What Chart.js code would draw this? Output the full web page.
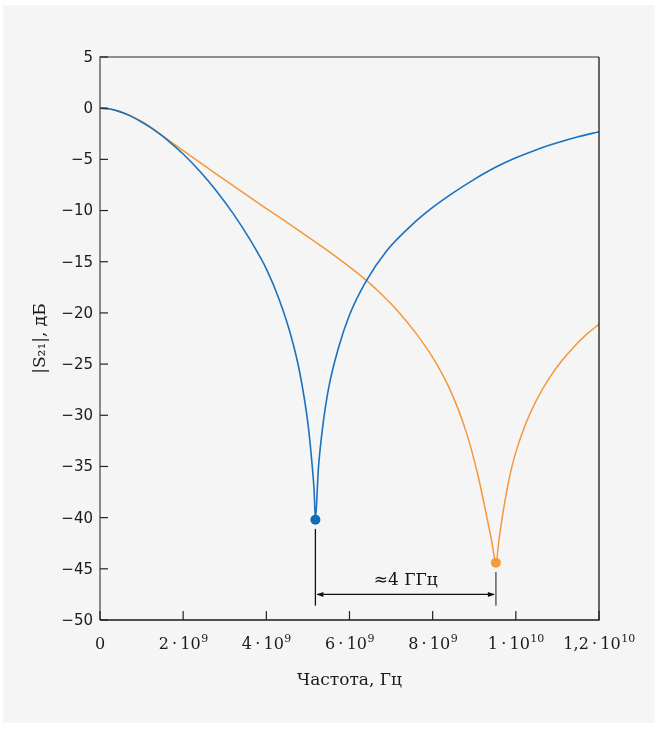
<!DOCTYPE html>
<html>
<head>
<meta charset="utf-8">
<script src="https://cdn.jsdelivr.net/npm/chart.js@4/dist/chart.umd.min.js"></script>
<style>
    html, body { margin: 0; background: #fff; }
    #wrap { width: 657px; height: 729px; }
</style>
</head>
<body>
<div id="wrap"><canvas id="chart"></canvas></div>
<script>
// частота в ГГц, |S21| в дБ
const blueFreq = [0, 0.2, 0.4, 0.6, 0.8, 1.0, 1.2, 1.4, 1.6, 2.0, 2.4, 2.8, 3.2, 3.6, 4.0, 4.3, 4.6, 4.8, 5.0, 5.1, 5.15, 5.18,
                  5.25, 5.35, 5.5, 5.75, 6.0, 6.4, 6.9, 7.5, 8.0, 8.5, 9.0, 9.5, 10.0, 10.5, 11.0, 11.5, 12.0];
const blueDb   = [0, -0.06, -0.24, -0.53, -0.9, -1.35, -1.85, -2.42, -3.04, -4.48, -6.16, -8.08, -10.28, -12.8, -15.7, -18.6, -22.35, -25.75, -30.8, -34.8, -37.4, -40.2,
                  -35.3, -31.3, -27.3, -23.2, -20.2, -16.9, -13.9, -11.4, -9.7, -8.25, -6.95, -5.8, -4.85, -4.05, -3.38, -2.8, -2.3];

const orangeFreq = [0, 0.2, 0.4, 0.6, 0.8, 1.0, 1.2, 1.4, 1.6, 2.0, 2.4, 3.0, 3.6, 4.2, 4.8, 5.4, 6.0, 6.4, 6.8, 7.2, 7.6, 8.0, 8.4, 8.8, 9.1, 9.3, 9.42, 9.52,
                    9.6, 9.7, 9.85, 10.0, 10.25, 10.5, 10.8, 11.1, 11.4, 11.7, 12.0];
const orangeDb   = [0, -0.06, -0.24, -0.53, -0.88, -1.3, -1.8, -2.38, -2.98, -4.15, -5.3, -7.0, -8.7, -10.35, -12.0, -13.7, -15.5, -16.8, -18.3, -20.0, -22.0, -24.35, -27.35, -31.55, -36.05, -39.9, -42.3, -44.4,
                    -42.0, -39.3, -36.0, -33.6, -30.7, -28.5, -26.4, -24.7, -23.3, -22.1, -21.1];

const notchFreq = [5.18, 9.52];
const notchDb = [-40.2, -44.4];

const xTicks = [0, 2, 4, 6, 8, 10, 12];
const xTickMant = ['0', '2\u2009·\u200910', '4\u2009·\u200910', '6\u2009·\u200910', '8\u2009·\u200910', '1\u2009·\u200910', '1,2\u2009·\u200910'];
const xTickPow = ['', '9', '9', '9', '9', '10', '10'];
const yTicks = [5, 0, -5, -10, -15, -20, -25, -30, -35, -40, -45, -50];

const BLUE = '#1a72bd';
const ORANGE = '#f5973b';
const SERIF = '"DejaVu Serif", serif';
const SANS = '"DejaVu Sans", sans-serif';

function pts(xs, ys) {
    return xs.map((x, i) => ({x: x, y: ys[i]}));
}

function arrowHead(ctx, x, y, dir) {
    ctx.beginPath();
    ctx.moveTo(x, y);
    ctx.lineTo(x - dir * 7, y - 2.5);
    ctx.lineTo(x - dir * 7, y + 2.5);
    ctx.closePath();
    ctx.fill();
}

const frame = {
    id: 'frame',
    beforeDraw(chart) {
        const ctx = chart.ctx;
        ctx.save();
        ctx.fillStyle = '#fff';
        ctx.fillRect(0, 0, chart.width, chart.height);
        ctx.fillStyle = '#f5f5f5';
        ctx.fillRect(3, 5, chart.width - 5, chart.height - 11);
        ctx.restore();
    },
    beforeDatasetsDraw(chart) {
        // разметка ≈4 ГГц
        const ctx = chart.ctx, sx = chart.scales.x, sy = chart.scales.y;
        const x1 = sx.getPixelForValue(notchFreq[0]);
        const x2 = sx.getPixelForValue(notchFreq[1]);
        const yBot = sy.getPixelForValue(-48.6);
        const yArr = sy.getPixelForValue(-47.5);
        ctx.save();
        ctx.lineWidth = 1.3;
        ctx.strokeStyle = '#111';
        ctx.beginPath();
        ctx.moveTo(x1, sy.getPixelForValue(-41.1));
        ctx.lineTo(x1, yBot);
        ctx.stroke();
        ctx.strokeStyle = '#777';
        ctx.lineWidth = 1.8;
        ctx.beginPath();
        ctx.moveTo(x2, sy.getPixelForValue(-45.3));
        ctx.lineTo(x2, yBot);
        ctx.stroke();
        ctx.strokeStyle = '#111';
        ctx.lineWidth = 1.2;
        ctx.beginPath();
        ctx.moveTo(x1 + 2, yArr);
        ctx.lineTo(x2 - 2, yArr);
        ctx.stroke();
        ctx.fillStyle = '#111';
        arrowHead(ctx, x1 + 1, yArr, -1);
        arrowHead(ctx, x2 - 1, yArr, 1);
        ctx.font = '17px ' + SERIF;
        ctx.textAlign = 'center';
        ctx.textBaseline = 'alphabetic';
        ctx.fillText('≈4 ГГц', (x1 + x2) / 2, sy.getPixelForValue(-46.6));
        ctx.restore();
    },
    afterDraw(chart) {
        const ctx = chart.ctx, a = chart.chartArea;
        const sx = chart.scales.x, sy = chart.scales.y;
        ctx.save();
        // рамка
        ctx.lineWidth = 1.6;
        ctx.strokeStyle = '#6e6e6e';
        ctx.beginPath();
        ctx.moveTo(a.left, a.bottom);
        ctx.lineTo(a.left, a.top);
        ctx.lineTo(a.right, a.top);
        ctx.stroke();
        ctx.strokeStyle = '#1a1a1a';
        ctx.lineWidth = 1.3;
        ctx.beginPath();
        ctx.moveTo(a.left, a.bottom);
        ctx.lineTo(a.right, a.bottom);
        ctx.lineTo(a.right, a.top);
        ctx.stroke();

        // деления Y
        ctx.strokeStyle = '#222';
        ctx.lineWidth = 1.2;
        ctx.fillStyle = '#1a1a1a';
        ctx.font = '15px ' + SANS;
        ctx.textAlign = 'right';
        ctx.textBaseline = 'middle';
        yTicks.forEach(v => {
            const y = sy.getPixelForValue(v);
            ctx.beginPath();
            ctx.moveTo(a.left, y);
            ctx.lineTo(a.left + 8, y);
            ctx.stroke();
            ctx.fillText(String(v).replace('-', '\u2212'), a.left - 7, y + 1);
        });

        // деления X
        ctx.textAlign = 'left';
        ctx.textBaseline = 'alphabetic';
        xTicks.forEach((v, i) => {
            const x = sx.getPixelForValue(v);
            ctx.beginPath();
            ctx.moveTo(x, a.bottom);
            ctx.lineTo(x, a.bottom - 9);
            ctx.stroke();
            ctx.font = '16px ' + SERIF;
            const w1 = ctx.measureText(xTickMant[i]).width;
            ctx.font = '11px ' + SERIF;
            const w2 = ctx.measureText(xTickPow[i]).width;
            const x0 = x - (w1 + w2) / 2;
            ctx.font = '16px ' + SERIF;
            ctx.fillText(xTickMant[i], x0, a.bottom + 29);
            ctx.font = '11px ' + SERIF;
            ctx.fillText(xTickPow[i], x0 + w1 + 0.5, a.bottom + 22);
        });

        // подписи осей
        ctx.font = '17px ' + SERIF;
        ctx.textAlign = 'center';
        ctx.fillText('Частота, Гц', (a.left + a.right) / 2, a.bottom + 65);
        ctx.translate(45, (a.top + a.bottom) / 2);
        ctx.rotate(-Math.PI / 2);
        ctx.fillText('|S₂₁|, дБ', 0, 0);
        ctx.restore();
    }
};

new Chart(document.getElementById('chart'), {
    type: 'scatter',
    data: {
        datasets: [{
            label: 'S21 (1)',
            data: pts(blueFreq, blueDb),
            showLine: true,
            borderColor: BLUE,
            borderWidth: 1.6,
            pointRadius: 0,
            cubicInterpolationMode: 'monotone'
        }, {
            label: 'S21 (2)',
            data: pts(orangeFreq, orangeDb),
            showLine: true,
            borderColor: ORANGE,
            borderWidth: 1.5,
            pointRadius: 0,
            cubicInterpolationMode: 'monotone'
        }, {
            label: 'notches',
            data: pts(notchFreq, notchDb),
            pointRadius: 5,
            pointBackgroundColor: ['#0b6cb8', '#f59a40'],
            pointBorderWidth: 0,
            clip: false
        }]
    },
    options: {
        responsive: true,
        maintainAspectRatio: false,
        animation: false,
        events: [],
        layout: { padding: { left: 100, top: 57, right: 58, bottom: 109 } },
        plugins: {
            legend: { display: false },
            tooltip: { enabled: false }
        },
        scales: {
            x: { type: 'linear', min: 0, max: 12, display: false },
            y: { type: 'linear', min: -50, max: 5, display: false }
        }
    },
    plugins: [frame]
});
</script>
</body>
</html>
